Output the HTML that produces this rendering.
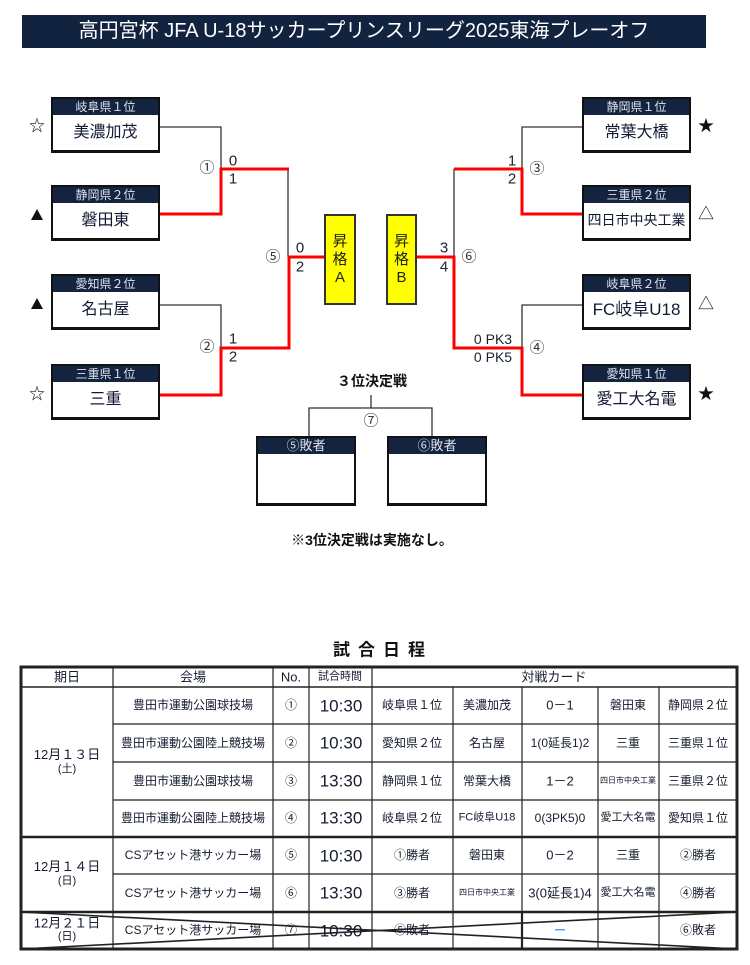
<!DOCTYPE html>
<html><head><meta charset="utf-8">
<style>
*{margin:0;padding:0}
body{width:750px;height:965px;background:#fff;position:relative;overflow:hidden;font-family:"Liberation Sans","Noto Sans CJK JP",sans-serif;color:#141c30}
.t{position:absolute;transform:translate(-50%,-50%);white-space:nowrap;line-height:1}
.box{position:absolute;width:109px;height:56px;box-sizing:border-box;border:2px solid #111;border-bottom-width:3px;background:#fff}
.hd{height:16px;background:#14233f;color:#dde4ee;font-size:12px;line-height:16px;text-align:center}
.nm{height:35px;line-height:35px;text-align:center;font-size:16px;color:#111a33;white-space:nowrap}
.pr{position:absolute;top:214px;width:32px;height:91px;box-sizing:border-box;border:2px solid #333;background:#ffff00;display:flex;flex-direction:column;justify-content:center;align-items:center;font-size:15px;color:#222}
.pr span{line-height:18px;display:block}
.b3{position:absolute;top:436px;width:100px;height:70px;box-sizing:border-box;border:2px solid #111;border-bottom-width:3px;background:#fff}
.b3 .hd{font-size:13px}
.sc{font-size:15px;color:#1a2233}
.cn{font-size:15px;color:#333}
.sym{font-size:16px;color:#111}
.tri{position:absolute;width:0;height:0;border-left:6px solid transparent;border-right:6px solid transparent;border-bottom:11px solid #111}
.tb{font-size:12px}
</style></head><body>

<div style="position:absolute;left:22px;top:15px;width:684px;height:33px;background:#12233f;color:#fff;font-size:20px;line-height:33px;text-align:center;white-space:nowrap">高円宮杯 JFA U-18サッカープリンスリーグ2025東海プレーオフ</div>

<svg width="750" height="965" style="position:absolute;left:0;top:0" xmlns="http://www.w3.org/2000/svg">
<g fill="none" stroke="#333" stroke-width="1.3">
<path d="M160,127 H221 V169"/>
<path d="M160,305 H221 V348"/>
<path d="M288,169 V257"/>
<path d="M582,127 H522 V169"/>
<path d="M582,305 H522 V348"/>
<path d="M454,169 V257"/>
<path d="M371,395 V408"/>
<path d="M309,436 V408 H432 V436"/>
</g>
<g fill="none" stroke="#ff0000" stroke-width="3">
<path d="M160,214 H221 V169 H289"/>
<path d="M160,395 H221 V348 H289 V257 H325"/>
<path d="M582,214 H522 V169 H454"/>
<path d="M417,257 H454 V348 H522 V395 H582"/>
</g>
<g fill="none" stroke="#222">
<rect x="21" y="667" width="716" height="282" stroke-width="3"/>
<line x1="21" y1="687" x2="737" y2="687" stroke-width="1.5"/>
<line x1="21" y1="837" x2="737" y2="837" stroke-width="2.5"/>
<line x1="21" y1="912" x2="737" y2="912" stroke-width="2.5"/>
<g stroke-width="1.2">
<line x1="113" y1="724" x2="737" y2="724"/>
<line x1="113" y1="762" x2="737" y2="762"/>
<line x1="113" y1="800" x2="737" y2="800"/>
<line x1="113" y1="874" x2="737" y2="874"/>
<line x1="113" y1="667" x2="113" y2="949"/>
<line x1="273" y1="667" x2="273" y2="949"/>
<line x1="309" y1="667" x2="309" y2="949"/>
<line x1="372" y1="667" x2="372" y2="949"/>
<line x1="453" y1="687" x2="453" y2="949"/>
<line x1="522" y1="687" x2="522" y2="949"/>
<line x1="598" y1="687" x2="598" y2="949"/>
<line x1="659" y1="687" x2="659" y2="949"/>
</g>
<line x1="522" y1="912" x2="522" y2="949" stroke-width="2.2"/>
<line x1="21" y1="912" x2="737" y2="949" stroke-width="1.6"/>
<line x1="21" y1="949" x2="737" y2="912" stroke-width="1.6"/>
</g>
</svg>

<div class="box" style="left:51px;top:97px"><div class="hd">岐阜県１位</div><div class="nm">美濃加茂</div></div>
<div class="box" style="left:51px;top:185px"><div class="hd">静岡県２位</div><div class="nm">磐田東</div></div>
<div class="box" style="left:51px;top:274px"><div class="hd">愛知県２位</div><div class="nm">名古屋</div></div>
<div class="box" style="left:51px;top:364px"><div class="hd">三重県１位</div><div class="nm">三重</div></div>
<div class="box" style="left:582px;top:97px"><div class="hd">静岡県１位</div><div class="nm">常葉大橋</div></div>
<div class="box" style="left:582px;top:185px"><div class="hd">三重県２位</div><div class="nm" style="font-size:14px">四日市中央工業</div></div>
<div class="box" style="left:582px;top:274px"><div class="hd">岐阜県２位</div><div class="nm" style="font-size:17px">FC岐阜U18</div></div>
<div class="box" style="left:582px;top:364px"><div class="hd">愛知県１位</div><div class="nm">愛工大名電</div></div>

<div class="t sym" style="left:37px;top:127px">☆</div>
<div class="tri" style="left:31px;top:209px"></div>
<div class="tri" style="left:31px;top:298px"></div>
<div class="t sym" style="left:37px;top:395px">☆</div>
<div class="t sym" style="left:706px;top:127px">★</div>
<div class="t sym" style="left:706px;top:215px">△</div>
<div class="t sym" style="left:706px;top:305px">△</div>
<div class="t sym" style="left:706px;top:395px">★</div>

<div class="pr" style="left:324px"><span>昇</span><span>格</span><span>A</span></div>
<div class="pr" style="left:386px;width:31px"><span>昇</span><span>格</span><span>B</span></div>

<div class="t cn" style="left:207px;top:168px">①</div>
<div class="t sc" style="left:233px;top:161px">0</div>
<div class="t sc" style="left:233px;top:179px">1</div>
<div class="t cn" style="left:273px;top:257px">⑤</div>
<div class="t sc" style="left:300px;top:248px">0</div>
<div class="t sc" style="left:300px;top:267px">2</div>
<div class="t cn" style="left:207px;top:347px">②</div>
<div class="t sc" style="left:233px;top:339px">1</div>
<div class="t sc" style="left:233px;top:357px">2</div>
<div class="t sc" style="left:512px;top:161px">1</div>
<div class="t sc" style="left:512px;top:179px">2</div>
<div class="t cn" style="left:537px;top:169px">③</div>
<div class="t sc" style="left:444px;top:248px">3</div>
<div class="t sc" style="left:444px;top:267px">4</div>
<div class="t cn" style="left:469px;top:257px">⑥</div>
<div class="t sc" style="left:493px;top:339px;font-size:14px">0 PK3</div>
<div class="t sc" style="left:493px;top:357px;font-size:14px">0 PK5</div>
<div class="t cn" style="left:537px;top:348px">④</div>

<div class="t" style="left:372px;top:381px;font-size:14px;font-weight:bold;color:#111">３位決定戦</div>
<div class="t cn" style="left:371px;top:421px">⑦</div>
<div class="b3" style="left:256px"><div class="hd">⑤敗者</div></div>
<div class="b3" style="left:387px"><div class="hd">⑥敗者</div></div>
<div class="t" style="left:372px;top:540px;font-size:14px;font-weight:bold;color:#111">※3位決定戦は実施なし。</div>

<div class="t" style="left:383px;top:650px;font-size:17px;font-weight:bold;letter-spacing:8px;color:#111">試合日程</div>

<div class="t" style="left:67px;top:677px;font-size:13px">期日</div>
<div class="t" style="left:193px;top:677px;font-size:13px">会場</div>
<div class="t" style="left:291px;top:677px;font-size:13px">No.</div>
<div class="t" style="left:340px;top:677px;font-size:11px">試合時間</div>
<div class="t" style="left:554px;top:677px;font-size:13px">対戦カード</div>

<div class="t" style="left:67px;top:762px;text-align:center;font-size:13px;line-height:13px">12月１３日<br><span style="font-size:11px">(土)</span></div>
<div class="t" style="left:67px;top:874px;text-align:center;font-size:13px;line-height:13px">12月１４日<br><span style="font-size:11px">(日)</span></div>
<div class="t" style="left:67px;top:930px;text-align:center;font-size:13px;line-height:12px">12月２１日<br><span style="font-size:11px">(日)</span></div>

<div class="t tb" style="left:193px;top:705px">豊田市運動公園球技場</div>
<div class="t tb" style="left:193px;top:743px">豊田市運動公園陸上競技場</div>
<div class="t tb" style="left:193px;top:781px">豊田市運動公園球技場</div>
<div class="t tb" style="left:193px;top:818px">豊田市運動公園陸上競技場</div>
<div class="t tb" style="left:193px;top:855px">CSアセット港サッカー場</div>
<div class="t tb" style="left:193px;top:893px">CSアセット港サッカー場</div>
<div class="t tb" style="left:193px;top:930px">CSアセット港サッカー場</div>

<div class="t tb" style="left:291px;top:705px">①</div>
<div class="t tb" style="left:291px;top:743px">②</div>
<div class="t tb" style="left:291px;top:781px">③</div>
<div class="t tb" style="left:291px;top:818px">④</div>
<div class="t tb" style="left:291px;top:855px">⑤</div>
<div class="t tb" style="left:291px;top:893px">⑥</div>
<div class="t tb" style="left:291px;top:930px">⑦</div>

<div class="t" style="left:341px;top:706px;font-size:17px">10:30</div>
<div class="t" style="left:341px;top:743px;font-size:17px">10:30</div>
<div class="t" style="left:341px;top:781px;font-size:17px">13:30</div>
<div class="t" style="left:341px;top:818px;font-size:17px">13:30</div>
<div class="t" style="left:341px;top:856px;font-size:17px">10:30</div>
<div class="t" style="left:341px;top:893px;font-size:17px">13:30</div>
<div class="t" style="left:341px;top:931px;font-size:17px">10:30</div>

<div class="t tb" style="left:412px;top:705px">岐阜県１位</div>
<div class="t tb" style="left:487px;top:705px">美濃加茂</div>
<div class="t" style="left:560px;top:705px;font-size:13px">0－1</div>
<div class="t tb" style="left:628px;top:705px">磐田東</div>
<div class="t tb" style="left:698px;top:705px">静岡県２位</div>

<div class="t tb" style="left:412px;top:743px">愛知県２位</div>
<div class="t tb" style="left:487px;top:743px">名古屋</div>
<div class="t tb" style="left:560px;top:743px">1(0延長1)2</div>
<div class="t tb" style="left:628px;top:743px">三重</div>
<div class="t tb" style="left:698px;top:743px">三重県１位</div>

<div class="t tb" style="left:412px;top:781px">静岡県１位</div>
<div class="t tb" style="left:487px;top:781px">常葉大橋</div>
<div class="t" style="left:560px;top:781px;font-size:13px">1－2</div>
<div class="t" style="left:628px;top:781px;font-size:8px">四日市中央工業</div>
<div class="t tb" style="left:698px;top:781px">三重県２位</div>

<div class="t tb" style="left:412px;top:818px">岐阜県２位</div>
<div class="t" style="left:487px;top:818px;font-size:11px">FC岐阜U18</div>
<div class="t tb" style="left:560px;top:818px">0(3PK5)0</div>
<div class="t" style="left:628px;top:818px;font-size:11px">愛工大名電</div>
<div class="t tb" style="left:698px;top:818px">愛知県１位</div>

<div class="t tb" style="left:412px;top:855px">①勝者</div>
<div class="t tb" style="left:487px;top:855px">磐田東</div>
<div class="t" style="left:560px;top:855px;font-size:13px">0－2</div>
<div class="t tb" style="left:628px;top:855px">三重</div>
<div class="t tb" style="left:698px;top:855px">②勝者</div>

<div class="t tb" style="left:412px;top:893px">③勝者</div>
<div class="t" style="left:487px;top:893px;font-size:8px">四日市中央工業</div>
<div class="t" style="left:560px;top:893px;font-size:13px">3(0延長1)4</div>
<div class="t" style="left:628px;top:893px;font-size:11px">愛工大名電</div>
<div class="t tb" style="left:698px;top:893px">④勝者</div>

<div class="t tb" style="left:412px;top:930px">⑤敗者</div>
<div class="t" style="left:560px;top:930px;font-size:14px;font-weight:bold;color:#5a9ee0">－</div>
<div class="t tb" style="left:698px;top:930px">⑥敗者</div>

</body></html>
